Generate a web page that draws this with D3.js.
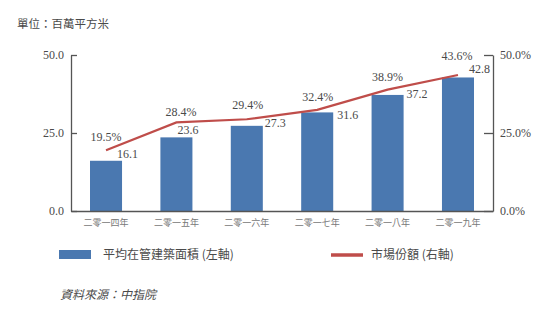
<!DOCTYPE html>
<html>
<head>
<meta charset="utf-8">
<script src="https://cdn.jsdelivr.net/npm/d3@7"></script>
<style>
  html, body { margin: 0; padding: 0; background: #fff; }
  svg { display: block; }
</style>
</head>
<body>
<svg id="chart" width="548" height="322"></svg>
<script>
// Years under management
const categories = ["二零一四年", "二零一五年", "二零一六年", "二零一七年", "二零一八年", "二零一九年"];
// Average GFA under management (million sq m, left axis)
const areaValues = [16.1, 23.6, 27.3, 31.6, 37.2, 42.8];
// Market share (%, right axis)
const shareValues = [19.5, 28.4, 29.4, 32.4, 38.9, 43.6];
// Axis ticks
const leftTicks = [0, 25, 50];
const rightTicks = [0, 25, 50];

// Label nudges (px): bar labels start from the bar's right edge, share labels centre on the point
const areaLabelOffset = [[-5, -3], [-15, -3], [2, 1], [4, 6.5], [3, 3], [-5, -4.5]];
const shareLabelOffset = [[0, -9.5], [4.5, -6.7], [1, -10], [0.5, -9], [0, -9], [-1, -15]];

const SERIF = "'Liberation Serif', 'DejaVu Serif', serif";
const CJK = "'Noto Sans CJK TC', 'Noto Sans CJK SC', sans-serif";
const BLUE = "#4a78b0";
const RED = "#bf4d4a";
const AXIS = "#555";
const TEXT = "#4a4a4a";

const svg = d3.select("#chart");

const x0 = 71, x1 = 493, yTop = 55, yBottom = 211;

const x = d3.scaleBand().domain(categories).range([x0, x1]).paddingInner(0.545).paddingOuter(0.27);
const yL = d3.scaleLinear().domain([0, 50]).range([yBottom, yTop]);
const yR = d3.scaleLinear().domain([0, 50]).range([yBottom, yTop]);

// Unit title
svg.append("text").attr("font-family", CJK).attr("x", 17).attr("y", 28)
  .attr("font-size", 11.5).attr("fill", TEXT).text("單位：百萬平方米");

// Bars
svg.append("g").selectAll("rect").data(areaValues).join("rect")
  .attr("x", (d, i) => x(categories[i]))
  .attr("y", d => yL(d))
  .attr("width", x.bandwidth())
  .attr("height", d => yBottom - yL(d))
  .attr("fill", BLUE);

// Market share line
const cx = i => x(categories[i]) + x.bandwidth() / 2;
const line = d3.line().x((d, i) => cx(i)).y(d => yR(d));
svg.append("path").datum(shareValues)
  .attr("d", line).attr("fill", "none").attr("stroke", RED).attr("stroke-width", 2.2);

// Axes
const leftAxis = d3.axisLeft(yL).tickValues(leftTicks).tickFormat(d3.format(".1f")).tickSizeInner(-6).tickSizeOuter(0);
const gL = svg.append("g").attr("transform", `translate(${x0},0)`).call(leftAxis);
const rightAxis = d3.axisRight(yR).tickValues(rightTicks).tickFormat(d => d3.format(".1f")(d) + "%").tickSizeInner(-9).tickSizeOuter(0);
const gR = svg.append("g").attr("transform", `translate(${x1},0)`).call(rightAxis);
[gL, gR].forEach(g => {
  g.attr("font-family", SERIF).attr("font-size", 12);
  g.select(".domain").attr("stroke", AXIS).attr("stroke-width", 1.3);
  g.selectAll(".tick line").attr("stroke", AXIS).attr("stroke-width", 1.3);
  g.selectAll(".tick text").attr("fill", TEXT);
});
gL.selectAll(".tick text").attr("x", -7);
gR.selectAll(".tick text").attr("x", 7);

// Baseline and category labels
const bottomAxis = d3.axisBottom(x).tickSize(0).tickPadding(9);
const gB = svg.append("g").attr("transform", `translate(0,${yBottom})`).call(bottomAxis);
gB.attr("font-family", CJK).attr("font-size", 9);
gB.select(".domain").attr("stroke", AXIS).attr("stroke-width", 1.3);
gB.selectAll(".tick text").attr("fill", "#777");

// Value labels for bars
svg.append("g").attr("font-family", SERIF).attr("font-size", 12).attr("fill", TEXT)
  .selectAll("text").data(areaValues).join("text")
  .attr("text-anchor", "start")
  .attr("x", (d, i) => x(categories[i]) + x.bandwidth() + areaLabelOffset[i][0])
  .attr("y", (d, i) => yL(d) + areaLabelOffset[i][1])
  .text(d => d.toFixed(1));

// Value labels for the line
svg.append("g").attr("font-family", SERIF).attr("font-size", 12).attr("fill", TEXT)
  .selectAll("text").data(shareValues).join("text")
  .attr("text-anchor", "middle")
  .attr("x", (d, i) => cx(i) + shareLabelOffset[i][0])
  .attr("y", (d, i) => yR(d) + shareLabelOffset[i][1])
  .text(d => d.toFixed(1) + "%");

// Legend
const lg = svg.append("g").attr("font-family", CJK).attr("font-size", 12).attr("fill", TEXT);
lg.append("rect").attr("x", 59).attr("y", 250).attr("width", 32).attr("height", 9).attr("fill", BLUE);
lg.append("text").attr("x", 103).attr("y", 259).text("平均在管建築面積 (左軸)");
lg.append("line").attr("x1", 331).attr("x2", 363).attr("y1", 255).attr("y2", 255)
  .attr("stroke", RED).attr("stroke-width", 3.5);
lg.append("text").attr("x", 371).attr("y", 259).text("市場份額 (右軸)");

// Source note
svg.append("text").attr("font-family", CJK).attr("x", 60).attr("y", 299).attr("font-size", 12)
  .attr("font-style", "italic").attr("fill", TEXT).text("資料來源：中指院");
</script>
</body>
</html>
